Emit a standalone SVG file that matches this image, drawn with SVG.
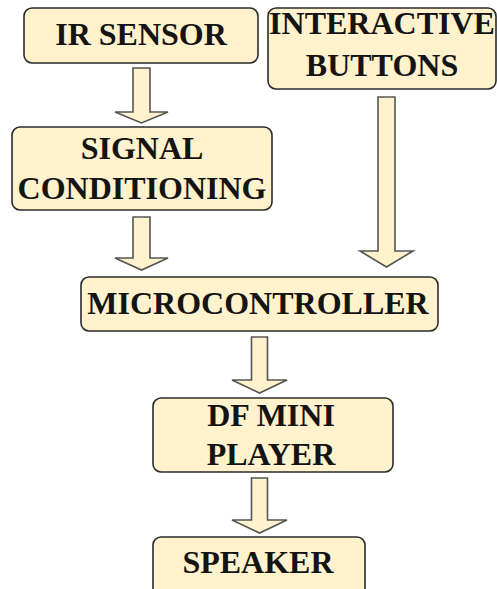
<svg xmlns="http://www.w3.org/2000/svg" width="497" height="589" viewBox="0 0 497 589">
<style>
.box{fill:#FFF2CC;stroke:#2b2b2b;stroke-width:1.6}
.arr{fill:#FFF2CC;stroke:#555555;stroke-width:1.6;stroke-linejoin:miter}
.t{font-family:"Liberation Serif","Times New Roman",serif;font-weight:bold;font-size:32px;fill:#141414;text-anchor:middle}
</style>
<rect width="497" height="589" fill="#ffffff"/>
<g id="connectors">
<polygon class="arr" points="133,68 150,68 150,112 168,112 141.5,123 115,112 133,112"/>
<polygon class="arr" points="133,217 150,217 150,258 168,258 141.5,270 115,258 133,258"/>
<polygon class="arr" points="378,97 395,97 395,251 413,251 386.5,267 360,251 378,251"/>
<polygon class="arr" points="251.5,337 267.5,337 267.5,380 287,380 259.5,393 232,380 251.5,380"/>
<polygon class="arr" points="251.5,478 267.5,478 267.5,520 287,520 259.5,533 232,520 251.5,520"/>
</g>
<g id="ir-sensor">
<rect class="box" x="24" y="8" width="234" height="55" rx="8"/>
<text class="t" x="141" y="45">IR SENSOR</text>
</g>
<g id="interactive-buttons">
<rect class="box" x="268" y="8" width="228" height="81" rx="8"/>
<text class="t" x="382" y="34">INTERACTIVE</text>
<text class="t" x="382" y="76">BUTTONS</text>
</g>
<g id="signal-conditioning">
<rect class="box" x="12" y="127" width="260" height="83" rx="8"/>
<text class="t" x="142" y="159">SIGNAL</text>
<text class="t" x="142" y="199">CONDITIONING</text>
</g>
<g id="microcontroller">
<rect class="box" x="81" y="277" width="357" height="54" rx="8"/>
<text class="t" x="258" y="314">MICROCONTROLLER</text>
</g>
<g id="df-mini-player">
<rect class="box" x="153" y="398" width="240" height="74" rx="8"/>
<text class="t" x="271" y="426">DF MINI</text>
<text class="t" x="271" y="465">PLAYER</text>
</g>
<g id="speaker">
<rect class="box" x="153" y="537" width="212" height="60" rx="8"/>
<text class="t" x="258" y="573">SPEAKER</text>
</g>
</svg>
